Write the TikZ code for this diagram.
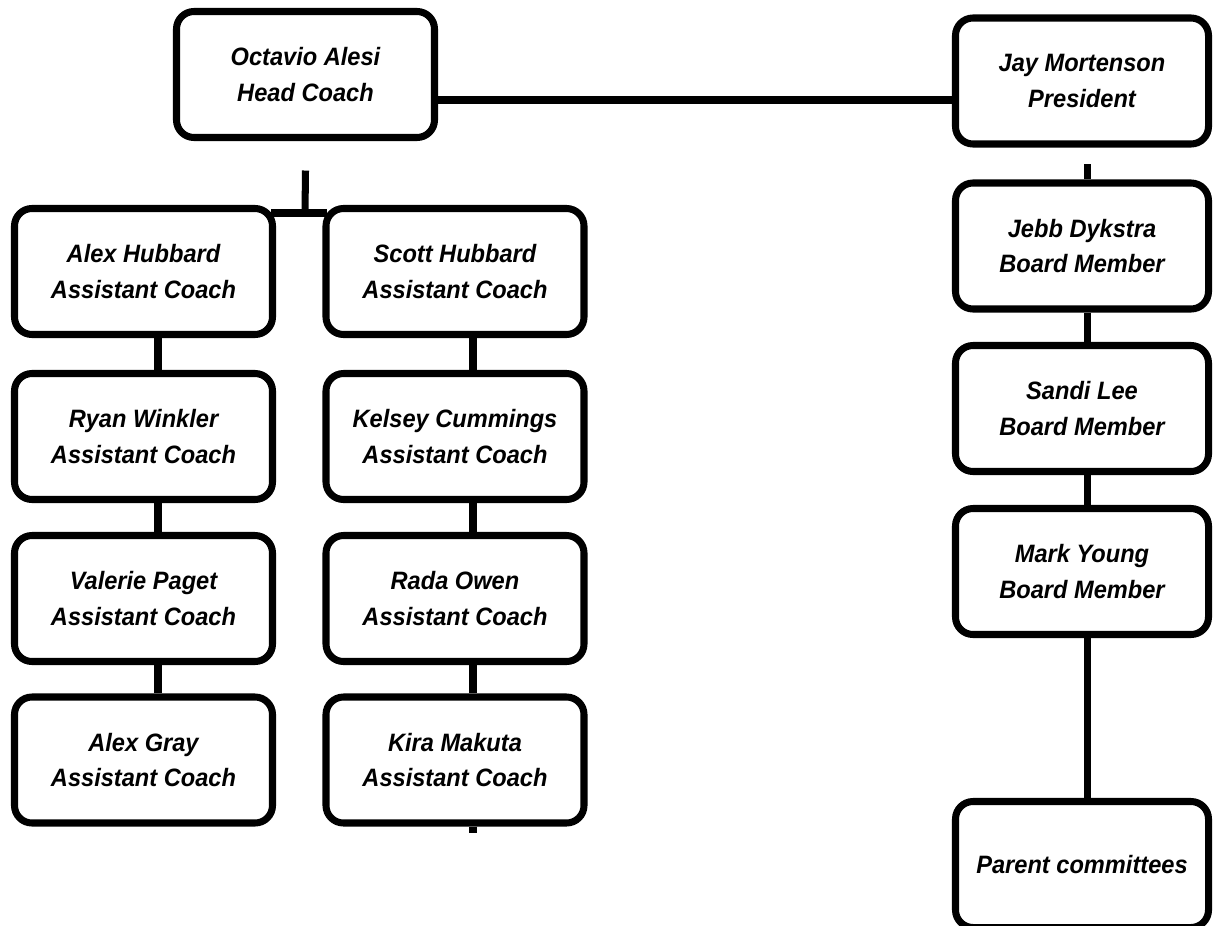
\documentclass[tikz,border=0pt]{standalone}
\usepackage{fontspec}
\newfontfamily\chartfont{Liberation Sans}[FakeStretch=0.94]
\usetikzlibrary{positioning}

\begin{document}
\begin{tikzpicture}[
      member/.style={rectangle, draw=black, line width=4pt, fill=white, align=center, rounded corners=0.35cm, minimum width=5.16cm, minimum height=2.52cm, inner sep=0pt, font=\chartfont\bfseries\itshape\fontsize{14.3}{20}\selectfont},
      board/.style={member, minimum width=5.06cm},
      link/.style={line width=4pt},
      ]
      \useasboundingbox (0,0) rectangle (24.28,-18.5);

      \node[member] (OA) at (6.11,-1.49) {Octavio Alesi\\Head Coach};

      \node[member] (AH) at (2.87,-5.43) {Alex Hubbard\\Assistant Coach};
      \node[member] (RW) at (2.87,-8.73) {Ryan Winkler\\Assistant Coach};
      \node[member] (VP) at (2.87,-11.97) {Valerie Paget\\Assistant Coach};
      \node[member] (AG) at (2.87,-15.2) {Alex Gray\\Assistant Coach};

      \node[member] (SH) at (9.10,-5.43) {Scott Hubbard\\Assistant Coach};
      \node[member] (KC) at (9.10,-8.73) {Kelsey Cummings\\Assistant Coach};
      \node[member] (RO) at (9.10,-11.97) {Rada Owen\\Assistant Coach};
      \node[member] (KM) at (9.10,-15.2) {Kira Makuta\\Assistant Coach};

      \node[board] (JM) at (21.64,-1.62) {Jay Mortenson\\President};
      \node[board] (JD) at (21.64,-4.92) {Jebb Dykstra\\Board Member};
      \node[board] (SL) at (21.64,-8.17) {Sandi Lee\\Board Member};
      \node[board] (MY) at (21.64,-11.43) {Mark Young\\Board Member};
      \node[board] (PC) at (21.64,-17.29) {Parent committees};

      % head coach to president
      \coordinate (top) at (0,-2.0);
      \draw[link] (OA.east |- top) -- (JM.west |- top);

      % head coach to the two assistant columns
      \coordinate (fork) at (6.10,-4.26);
      \draw[link] ([yshift=-0.59cm]OA.south) -- (fork);
      \draw[link] ([xshift=-0.1cm]AH.east |- fork) -- ([xshift=0.1cm]SH.west |- fork);

      \draw[link] ([xshift=0.29cm]AH.south) -- ([xshift=0.29cm]RW.north);
      \draw[link] ([xshift=0.29cm]RW.south) -- ([xshift=0.29cm]VP.north);
      \draw[link] ([xshift=0.29cm]VP.south) -- ([xshift=0.29cm]AG.north);

      \draw[link] ([xshift=0.36cm]SH.south) -- ([xshift=0.36cm]KC.north);
      \draw[link] ([xshift=0.36cm]KC.south) -- ([xshift=0.36cm]RO.north);
      \draw[link] ([xshift=0.36cm]RO.south) -- ([xshift=0.36cm]KM.north);
      \draw[link] ([xshift=0.36cm]KM.south) -- ++(0,-0.13);

      % board column
      \draw[link] ([xshift=0.1cm,yshift=-0.33cm]JM.south) -- ([xshift=0.1cm]JD.north);
      \draw[link] ([xshift=0.1cm]JD.south) -- ([xshift=0.1cm]SL.north);
      \draw[link] ([xshift=0.1cm]SL.south) -- ([xshift=0.1cm]MY.north);
      \draw[link] ([xshift=0.1cm]MY.south) -- ([xshift=0.1cm]PC.north);
    \end{tikzpicture}
\end{document}
